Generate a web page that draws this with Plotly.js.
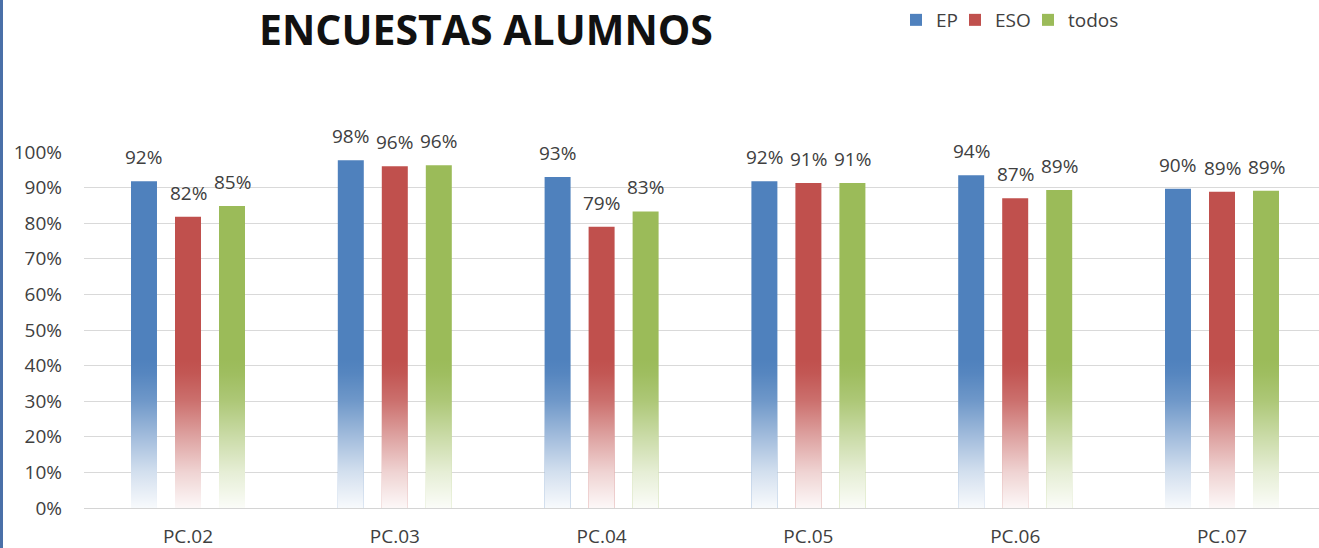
<!DOCTYPE html>
<html>
<head>
<meta charset="utf-8">
<script src="https://cdn.plot.ly/plotly-3.0.1.min.js"></script>
<style>
  html, body { margin: 0; padding: 0; background: #ffffff; }
  #chart { width: 1319px; height: 548px; }
</style>
</head>
<body>
<div id="chart"></div>
<script>
// ---- data ----
const categories = ["PC.02", "PC.03", "PC.04", "PC.05", "PC.06", "PC.07"];
const seriesNames = ["EP", "ESO", "todos"];
const valuesEP    = [0.918, 0.977, 0.930, 0.918, 0.935, 0.897];
const valuesESO   = [0.818, 0.960, 0.790, 0.913, 0.870, 0.888];
const valuesTodos = [0.848, 0.963, 0.833, 0.913, 0.893, 0.891];
const yTickVals   = [0, 0.1, 0.2, 0.3, 0.4, 0.5, 0.6, 0.7, 0.8, 0.9, 1.0];

// ---- style ----
const colors = ["#4F81BD", "#C0504D", "#9BBB59"];
const allValues = [valuesEP, valuesESO, valuesTodos];
const legendIds = ["legend", "legend2", "legend3"];
const legendX = [896, 955, 1028];   // px, left edge of each legend box
const barWidth = 0.1257;
const barPitch = 0.2128;
const fadeTop = 0.42;
const FONT = "Open Sans, Liberation Sans, sans-serif";
const TXT = "#404040";

const xIdx = categories.map((_, i) => i);
const traces = [];
const annotations = [];

allValues.forEach((vals, j) => {
  const center = (j - 1) * barPitch;
  traces.push({
    type: "bar",
    name: seriesNames[j],
    legend: legendIds[j],
    x: xIdx,
    y: vals,
    width: barWidth,
    offset: center - barWidth / 2,
    marker: { color: colors[j], line: { width: 0 } },
    hoverinfo: "y+name"
  });
  vals.forEach((v, i) => {
    annotations.push({
      x: i + center, y: v, xref: "x", yref: "y",
      text: Math.round(v * 100) + "%",
      showarrow: false, yanchor: "middle", yshift: 24,
      font: { family: FONT, size: 19, color: TXT }
    });
  });
});

// white fade overlay on the lower part of every bar (gradient fill)
allValues.forEach((vals, j) => {
  const center = (j - 1) * barPitch;
  const xs = [], ys = [];
  vals.forEach((v, i) => {
    const x0 = i + center - barWidth / 2;
    const x1 = x0 + barWidth;
    const h = Math.min(v, fadeTop);
    xs.push(x0, x1, x1, x0, x0, null);
    ys.push(0, 0, h, h, 0, null);
  });
  traces.push({
    type: "scatter",
    x: xs, y: ys,
    mode: "none",
    fill: "toself",
    fillgradient: {
      type: "vertical",
      start: 0,
      stop: fadeTop,
      colorscale: [
        [0, "rgba(255,255,255,0.96)"],
        [0.24, "rgba(255,255,255,0.75)"],
        [0.48, "rgba(255,255,255,0.47)"],
        [0.72, "rgba(255,255,255,0.18)"],
        [0.9, "rgba(255,255,255,0.04)"],
        [1, "rgba(255,255,255,0)"]
      ]
    },
    showlegend: false,
    hoverinfo: "skip"
  });
});

const W = 1319, H = 548, ML = 84, MR = 0, MT = 152, MB = 40;
const plotW = W - ML - MR, plotH = H - MT - MB;
const catPx = 206.8;
const firstCenterPx = 188;

const layout = {
  width: W, height: H,
  margin: { l: ML, r: MR, t: MT, b: MB, pad: 0 },
  paper_bgcolor: "#ffffff",
  plot_bgcolor: "#ffffff",
  barmode: "overlay",
  title: {
    text: "<b>ENCUESTAS ALUMNOS</b>",
    font: { family: FONT, size: 41, color: "#111111" },
    xref: "container", yref: "container",
    x: 486 / W, y: 1 - 31 / H, xanchor: "center", yanchor: "middle"
  },
  showlegend: true,
  xaxis: {
    range: [-(firstCenterPx - ML) / catPx, (W - MR - firstCenterPx) / catPx],
    tickmode: "array",
    tickvals: xIdx,
    ticktext: categories,
    showgrid: false,
    zeroline: false,
    showline: true,
    linecolor: "#D4D4D4",
    linewidth: 1,
    ticks: "",
    ticklabelstandoff: 11,
    tickfont: { family: FONT, size: 19, color: TXT },
    fixedrange: true
  },
  yaxis: {
    range: [0, 1],
    tickmode: "array",
    tickvals: yTickVals,
    tickformat: ".0%",
    showgrid: true,
    gridcolor: "#D9D9D9",
    gridwidth: 1,
    zeroline: false,
    showline: false,
    ticks: "",
    ticklabelstandoff: 21,
    tickfont: { family: FONT, size: 19, color: TXT },
    fixedrange: true
  },
  annotations: annotations,
  shapes: [{
    type: "rect", xref: "paper", yref: "paper",
    x0: -ML / plotW, x1: -(ML - 3) / plotW,
    y0: -MB / plotH, y1: 1 + MT / plotH,
    fillcolor: "#4A70A8", line: { width: 0 }, layer: "above"
  }]
};

legendIds.forEach((id, j) => {
  layout[id] = {
    orientation: "h",
    xref: "container", yref: "container",
    x: legendX[j] / W, y: 1 - 20 / H, xanchor: "left", yanchor: "middle",
    font: { family: FONT, size: 19, color: TXT },
    bgcolor: "rgba(0,0,0,0)",
    borderwidth: 0,
    itemwidth: 30
  };
});

Plotly.newPlot("chart", traces, layout, { displayModeBar: false, staticPlot: true });
</script>
</body>
</html>
